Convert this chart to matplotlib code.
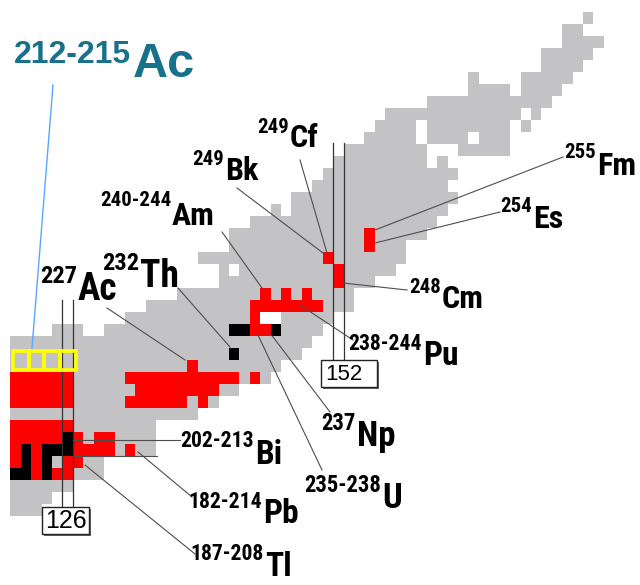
import matplotlib.pyplot as plt
import numpy as np
from matplotlib import font_manager as fm
from matplotlib.colors import ListedColormap
from matplotlib.patches import Rectangle

# one cell = one nuclide, N to the right, Z upward
CELL_W, CELL_H = 10.41, 12.0
N0, Z_TOP = 120.0, 119.975

# grey band of known nuclides: (Z, first N, last N)
grey_spans = [
    (118, 176, 176), (117, 174, 175), (116, 174, 177), (115, 172, 176),
    (114, 172, 175), (113, 165, 165), (113, 170, 174), (112, 165, 168),
    (112, 170, 173), (111, 161, 172), (110, 157, 169), (110, 171, 171),
    (109, 156, 159), (109, 161, 168), (109, 170, 170), (108, 155, 159),
    (108, 161, 164), (108, 166, 168), (107, 153, 160), (107, 164, 168),
    (106, 152, 160), (106, 162, 162), (105, 151, 163), (104, 150, 162),
    (103, 148, 163), (102, 146, 146), (102, 148, 162), (101, 144, 161),
    (100, 142, 160), (99, 142, 158), (98, 139, 158), (97, 141, 141),
    (97, 143, 157), (96, 141, 155), (95, 137, 153), (94, 134, 153),
    (93, 132, 144), (93, 147, 151), (92, 125, 127), (92, 130, 150),
    (91, 121, 149), (90, 121, 148), (89, 121, 146), (88, 121, 145),
    (87, 121, 142), (86, 121, 140), (85, 121, 138), (84, 121, 134),
    (83, 121, 134), (82, 121, 134), (81, 121, 129), (80, 121, 129),
    (79, 121, 126), (78, 121, 124), (77, 121, 123),
]

# nuclides found in nature (red) and primordial (black)
red_spans = [
    (92, 144, 145), (88, 121, 126), (88, 132, 142), (88, 144, 144),
    (87, 121, 126), (87, 133, 140), (86, 121, 126), (86, 132, 137),
    (86, 139, 139), (84, 121, 126), (83, 121, 125), (83, 127, 127),
    (83, 129, 130), (82, 121, 121), (82, 123, 123), (82, 127, 130),
    (82, 132, 132), (81, 121, 121), (81, 123, 123), (81, 126, 127),
    (80, 123, 123), (80, 125, 126),
]
black_spans = [
    (92, 142, 143), (92, 146, 146), (83, 126, 126), (82, 122, 122),
    (82, 124, 126), (81, 122, 122), (81, 124, 124), (80, 121, 122),
    (80, 124, 124),
]

# labelled isotopes: symbol, Z, mass numbers
elem_z = {'Ac': 89, 'Th': 90, 'U': 92, 'Np': 93, 'Pu': 94, 'Am': 95,
          'Cm': 96, 'Bk': 97, 'Cf': 98, 'Es': 99, 'Fm': 100,
          'Tl': 81, 'Pb': 82, 'Bi': 83}
single_red = [('Fm', 255), ('Es', 254), ('Cf', 249), ('Bk', 249),
              ('Cm', 248), ('Ac', 227), ('Np', 237)]
single_black = [('Th', 232)]
pu_masses = (238, 244)
am_masses = [240, 242, 244]
ac_boxes = [212, 213, 214, 215]

mass_text = ['227', '232', '240-244', '249', '249', '255', '254', '248',
             '238-244', '237', '235-238', '202-213', '182-214', '187-208']
sym_text = ['Ac', 'Th', 'Am', 'Bk', 'Cf', 'Fm', 'Es', 'Cm',
            'Pu', 'Np', 'U', 'Bi', 'Pb', 'Tl']
# symbol left x, symbol baseline, superscript baseline, font size, leader from, leader to (pixels)
label_layout = [
    (78, 300, 283, 27, (107, 308), (185, 360)),
    (140, 287, 270, 27, (178, 288), (230, 347)),
    (172, 225, 206, 23, (222, 232), (262, 288)),
    (225, 180, 165, 23, (237, 188), (323, 253)),
    (290, 147, 133, 23, (300, 160), (327, 253)),
    (597, 175, 158, 23, (563, 157), (375, 230)),
    (533, 228, 212, 23, (500, 212), (375, 243)),
    (442, 308, 293, 23, (407, 290), (343, 283)),
    (423, 365, 350, 24, (353, 340), (300, 305)),
    (357, 446, 430, 25, (330, 412), (270, 333)),
    (382, 508, 492, 25, (322, 470), (257, 333)),
    (255, 464, 447, 24, (180, 440), (73, 440)),
    (263, 523, 508, 24, (192, 497), (138, 452)),
    (265, 576, 560, 24, (195, 554), (85, 465)),
]

GREY, RED = '#c3c3c6', '#ff0000'


def narrow_bold_font():
    """pick a bold narrow/condensed sans face if one is installed"""
    prefs = ['Liberation Sans Narrow', 'Arial Narrow', 'Roboto Condensed',
             'Noto Sans', 'Open Sans', 'DejaVu Sans']
    best, best_rank = None, len(prefs) + 1
    for f in fm.fontManager.ttflist:
        w = f.weight if isinstance(f.weight, int) else fm.weight_dict.get(f.weight, 400)
        narrow = ('Narrow' in f.name or 'Condensed' in f.name
                  or f.stretch in ('condensed', 'semi-condensed'))
        if not narrow or w < 600 or f.style != 'normal':
            continue
        rank = next((i for i, p in enumerate(prefs) if f.name.startswith(p)), len(prefs))
        if rank < best_rank:
            best, best_rank = f, rank
    if best is None:
        return fm.FontProperties(family='Liberation Sans', weight='bold'), 0.84
    return fm.FontProperties(fname=best.fname), 1.0


NARROW, SIZE_K = narrow_bold_font()


def px(x, y):
    """figure pixel (from top left) to (N, Z) chart coordinates"""
    return N0 + x / CELL_W, Z_TOP - y / CELL_H


n_edges = np.arange(120, 182)
z_edges = np.arange(76, 120)
grid = np.zeros((len(z_edges) - 1, len(n_edges) - 1), dtype=int)


def paint(spans, code):
    for z, a, b in spans:
        grid[z - 76, a - 120:b - 119] = code


paint(grey_spans, 1)
paint(red_spans, 2)
paint(black_spans, 3)
for sym, a in single_red:
    z = elem_z[sym]
    paint([(z, a - z, a - z)], 2)
for sym, a in single_black:
    z = elem_z[sym]
    paint([(z, a - z, a - z)], 3)
paint([(94, pu_masses[0] - 94, pu_masses[1] - 94)], 2)
for a in am_masses:
    paint([(95, a - 95, a - 95)], 2)

fig = plt.figure(figsize=(6.4, 5.85), dpi=100)
ax = fig.add_axes([0, 0, 1, 1])
cmap = ListedColormap(['white', GREY, RED, 'black'])
ax.pcolormesh(n_edges, z_edges, grid, cmap=cmap, vmin=-0.5, vmax=3.5,
              edgecolors='none', antialiased=False)
ax.set_xlim(N0, N0 + 640 / CELL_W)
ax.set_ylim(Z_TOP - 585 / CELL_H, Z_TOP)
ax.axis('off')

# magic neutron numbers 126 and 152
for n, top, box_y, box_x, box_w in [(126, 300, 507, 42, 47), (152, 143, 360, 321, 56)]:
    y0, y1 = px(0, top)[1], px(0, box_y)[1]
    for edge in (n, n + 1):
        ax.plot([edge, edge], [y0, y1], color='#333333', lw=0.9, zorder=3)
    bx, by = px(box_x, box_y + 27)
    ax.add_patch(Rectangle((bx + 0.2, by - 0.15), box_w / CELL_W, 27 / CELL_H,
                           facecolor='#666666', edgecolor='none', zorder=4))
    ax.add_patch(Rectangle((bx, by), box_w / CELL_W, 27 / CELL_H,
                           facecolor='white', edgecolor='#222222', lw=1, zorder=5))
    if n == 126:
        ax.text(*px(box_x + box_w / 2, box_y + 14), str(n), fontsize=18,
                ha='center', va='center', family='Liberation Sans', zorder=6)
    else:
        ax.text(*px(box_x + 4, box_y + 14), str(n), fontsize=16, ha='left',
                va='center', family='Liberation Sans', zorder=6)

# second Bi leader
ax.plot(*zip(px(73, 456), px(157, 456)), color='#4d4d4d', lw=0.8, zorder=3)

for mass, sym, (sx, sy, supy, fs, p0, p1) in zip(mass_text, sym_text, label_layout):
    ax.plot(*zip(px(*p0), px(*p1)), color='#4d4d4d', lw=0.8, zorder=3)
    ax.text(*px(sx, sy), sym, fontproperties=NARROW, fontsize=fs * SIZE_K,
            ha='left', va='baseline', zorder=6)
    ax.text(*px(sx - 1, supy), mass, fontproperties=NARROW,
            fontsize=fs * 0.65 * SIZE_K, ha='right', va='baseline', zorder=6)

# Ac 212-215 highlight
bw = (76 - 12.7) / CELL_W / len(ac_boxes)
bx0, by0 = px(12.7, 370)
for i, a in enumerate(ac_boxes):
    ax.add_patch(Rectangle((bx0 + i * bw, by0), bw, 19 / CELL_H, facecolor='none',
                           edgecolor='#ffff00', lw=2.6, zorder=4))
ax.plot(*zip(px(53, 85), px(32, 348)), color='#5aa5ff', lw=1, zorder=3)
teal = '#17718b'
ax.text(*px(133, 77), 'Ac', fontsize=35, fontweight='bold', color=teal,
        ha='left', va='baseline', family='Liberation Sans')
ax.text(*px(131, 63), f'{ac_boxes[0]}-{ac_boxes[-1]}', fontsize=23, fontweight='bold',
        color=teal, ha='right', va='baseline', family='Liberation Sans')

fig.savefig('out.png', dpi=100)
